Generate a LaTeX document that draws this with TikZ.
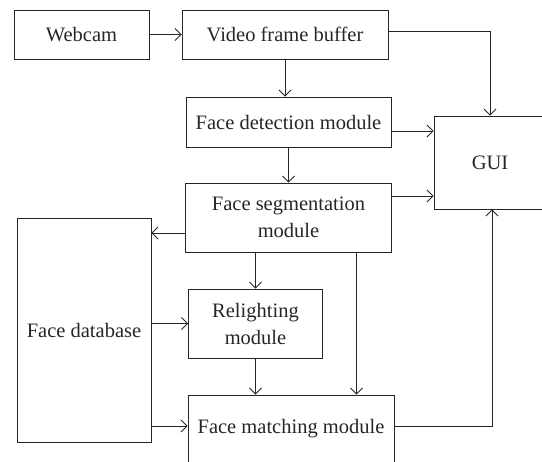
\documentclass[tikz,border=0pt]{standalone}
\usepackage{fontspec}
\setmainfont{Liberation Serif}
\usetikzlibrary{arrows.meta,positioning}
\definecolor{ink}{HTML}{262626}
\tikzset{
  block/.style={draw=ink, line width=0.9pt, inner sep=0pt, align=center,
    text=ink, font=\fontsize{20.5}{27}\selectfont},
  flow/.style={draw=ink, line width=0.9pt,
    -{Straight Barb[length=6pt,width=12pt]}}
}
\begin{document}
\begin{tikzpicture}[x=1pt,y=-1pt]
\useasboundingbox (0,0) rectangle (542,462);
\clip (0,0) rectangle (542,462);

% processing blocks
\node[block, minimum width=135pt, minimum height=49pt] (cam) at (81.5,34.5) {Webcam};
\node[block, minimum width=206pt, minimum height=49pt] (buf) at (285,34.5) {Video frame buffer};
\node[block, minimum width=205pt, minimum height=50pt] (det) at (288.5,122) {Face detection module};
\node[block, minimum width=112pt, minimum height=93pt] (gui) at (490,162.5) {GUI};
\node[block, minimum width=206pt, minimum height=69pt] (seg) at (288.5,217.5) {Face segmentation\\module};
\node[block, minimum width=134pt, minimum height=224pt] (db) at (84,330) {Face database};
\node[block, minimum width=134pt, minimum height=69pt] (rel) at (255.5,323.5) {Relighting\\module};
\node[block, minimum width=206pt, minimum height=68pt] (mat) at (291,429) {Face matching module};

% data flow
\draw[flow] (cam) -- (buf);
\draw[flow] ([yshift=3pt]buf.east) -| (gui.north);
\draw[flow] (buf.south) -- (buf.south |- det.north);
\draw[flow] ([yshift=-9pt]det.east) -- ([yshift=-9pt]det.east -| gui.west);
\draw[flow] (det.south) -- (det.south |- seg.north);
\draw[flow] ([yshift=21.5pt]seg.east) -- ([yshift=21.5pt]seg.east -| gui.west);
\draw[flow] ([yshift=-15.5pt]seg.west) -- ([yshift=-15.5pt]seg.west -| db.east);
\draw[flow] (seg.south -| rel.north) -- (rel.north);
\draw[flow] ([xshift=68pt]seg.south) -- ([xshift=68pt]seg.south |- mat.north);
\draw[flow] (rel.south) -- (rel.south |- mat.north);
\draw[flow] (db.east |- rel.west) -- (rel.west);
\draw[flow] ([yshift=3pt]db.east |- mat.west) -- ([yshift=3pt]mat.west);
\draw[flow] ([yshift=3pt]mat.east) -| ([xshift=2pt]gui.south);
\end{tikzpicture}
\end{document}
